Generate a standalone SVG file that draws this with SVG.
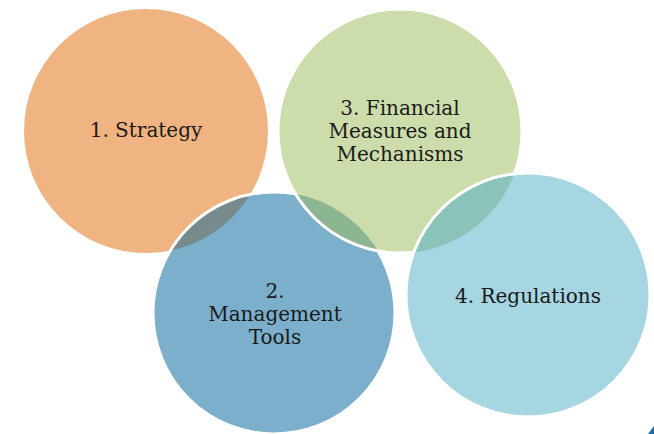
<svg xmlns="http://www.w3.org/2000/svg" width="654" height="434" viewBox="0 0 654 434">
<style>
.lbl{font-family:"DejaVu Serif","Liberation Serif",serif;font-size:20px;fill:#1a1a1a;text-anchor:middle}
.edge{fill:none;stroke:#fff;stroke-width:3}
</style>
<defs>
<clipPath id="cOrange"><circle cx="146" cy="131" r="122"/></clipPath>
<clipPath id="cBlue"><circle cx="274" cy="313" r="121"/></clipPath>
<clipPath id="cGreen"><circle cx="400" cy="131" r="122"/></clipPath>
</defs>
<rect width="654" height="434" fill="#fff"/>
<g id="n1">
<circle cx="146" cy="131" r="122" fill="#F0B483"/>
</g>
<g id="n2">
<circle cx="274" cy="313" r="121" fill="#7BAFCB"/>
<circle cx="274" cy="313" r="121" fill="#778B8C" clip-path="url(#cOrange)"/>
<circle class="edge" cx="274" cy="313" r="121"/>
</g>
<g id="n3">
<circle cx="400" cy="131" r="122" fill="#CDDCAB"/>
<circle cx="400" cy="131" r="122" fill="#8CB591" clip-path="url(#cBlue)"/>
<circle class="edge" cx="400" cy="131" r="122"/>
</g>
<g id="n4">
<circle cx="528" cy="295" r="122" fill="#A5D6E2"/>
<circle cx="528" cy="295" r="122" fill="#8AC4B9" clip-path="url(#cGreen)"/>
<circle class="edge" cx="528" cy="295" r="122"/>
</g>
<g id="connectors"></g>
<g id="labels">
<text class="lbl" x="146" y="137">1. Strategy</text>
<text class="lbl" x="275" y="298">2.</text>
<text class="lbl" x="275" y="321">Management</text>
<text class="lbl" x="275" y="344">Tools</text>
<text class="lbl" x="400" y="115">3. Financial</text>
<text class="lbl" x="400" y="138">Measures and</text>
<text class="lbl" x="400" y="161">Mechanisms</text>
<text class="lbl" x="528" y="303">4. Regulations</text>
</g>
<polygon points="648,434 654,426 654,434" fill="#1F6E9E"/>
</svg>
